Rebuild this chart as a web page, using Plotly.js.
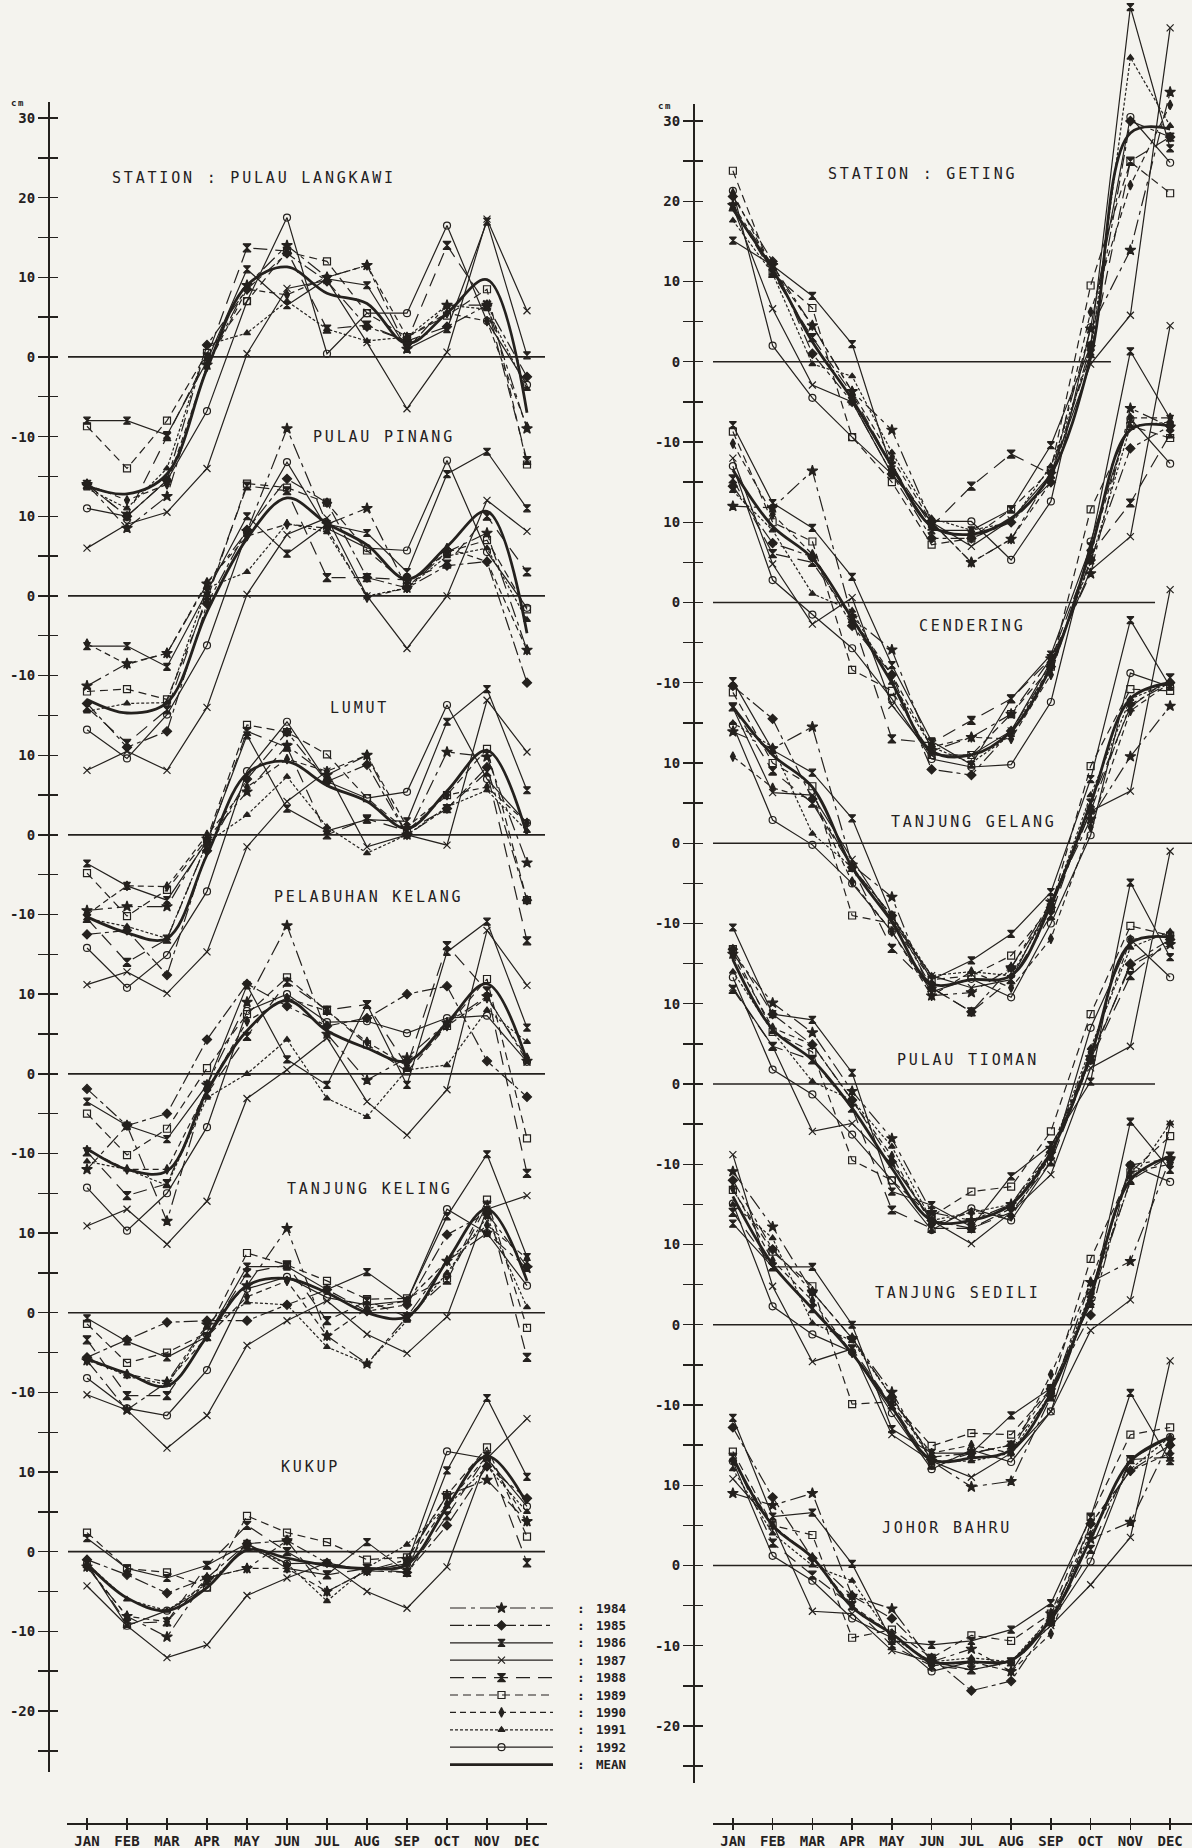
<!DOCTYPE html>
<html>
<head>
<meta charset="utf-8">
<script src="https://cdn.plot.ly/plotly-3.0.1.min.js"></script>
<style>
html,body{margin:0;padding:0;background:#f4f3ee;}
#chart{width:1192px;height:1848px;}
</style>
</head>
<body>
<div id="chart"></div>
<script>
// ---------------- DATA (cm, monthly mean sea level anomaly) ----------------
const months = ['JAN','FEB','MAR','APR','MAY','JUN','JUL','AUG','SEP','OCT','NOV','DEC'];
const years = ['1984','1985','1986','1987','1988','1989','1990','1991','1992'];
const legendLabels = ['1984','1985','1986','1987','1988','1989','1990','1991','1992','MEAN'];
const axisTickLabels = ['30','20','10','0','-10','10','0','-10','10','0','-10','10','0','-10','10','0','-10','10','0','-10','-20'];

// ---- West coast ----
const langkawiMean = [-16.2,-17.2,-14.7,-1.5,9.0,11.3,8.0,6.7,1.7,5.5,9.7,-7.0];
const langkawi = [
  [-16,-21.5,-17.5,-1,9,14,10,11.5,1,6.5,6.5,-9],
  [-16,-20,-15.5,1.5,8.5,13,9.5,3.8,2,3.8,6.5,-2.5],
  [-8,-8,-9.8,-0.5,11,6.5,9.8,9,1,3.5,17,0.2],
  [-24,-21,-19.5,-14,0.4,8.6,9.6,1.8,-6.5,0.6,17.3,5.8],
  [-16,-20,-10,0,13.7,13.3,3.5,4,2,14,6.5,-13],
  [-8.7,-14,-8,0.5,7,13.2,12,5.5,2.5,5.2,8.5,-13.5],
  [-16,-18,-16,-1.2,8.5,7.8,10,11.5,2.5,5.5,4.5,-8.8],
  [-16.5,-19,-14,1.5,3,7,3.5,2,2.5,6.5,6,-4],
  [-19,-20,-15.5,-6.8,7,17.5,0.4,5.5,5.5,16.5,4.5,-3.5]
];
const pinangMean = [-13,-14.7,-13.4,-2.0,7.2,12.3,9.1,6.4,2.1,6.2,10.6,-4.7];
const pinang = [
  [-11.3,-8.5,-7.2,1.5,8.1,21,9,11,1,5.5,7.9,-6.8],
  [-13.5,-19,-17,-1,8.3,14.7,11.7,2.3,1,3.8,4.3,-10.9],
  [-6.3,-6.3,-8.9,0.5,10,5.3,9,7.9,3,15.3,18.1,11],
  [-21.9,-19.5,-21.9,-14,0.2,7.7,9.8,0,-6.6,0,12,8.1],
  [-14,-18.5,-14.3,0,13.8,13.2,2.3,2.3,2,4,10,3],
  [-12,-11.7,-13,-0.5,14.1,13.6,11.7,5.7,1.5,5.5,7,-1.7],
  [-6,-8.6,-7.2,1.7,7.5,9,8.5,-0.2,1,6,4.3,-6.8],
  [-14.5,-13.5,-13.4,1,3,9.1,8,0,1,5,6,-3],
  [-16.8,-20.4,-14.9,-6.2,8,16.8,8.5,6,5.7,17,5.5,-1.5]
];
const lumutMean = [-10.3,-12.3,-13.0,-2.5,7.7,9.2,6.2,4.2,0.8,5.5,10.6,0.0];
const lumut = [
  [-9.5,-9,-9,-0.5,5.4,11.2,7.5,10,0,10.4,9.8,-3.5],
  [-12.5,-12,-17.6,-2,7,12.9,6.7,8.8,0,3.3,8.5,-8.2],
  [-3.6,-6.4,-8.2,-0.8,12.5,3.3,0.5,1.9,1.7,14.2,18.3,5.6],
  [-18.8,-17.2,-19.9,-14.7,-1.5,4.2,8,-1.5,0,-1.3,16.9,10.4],
  [-10.5,-16,-13.1,-1,13,11,0,2,0.5,3.3,7.9,-13.3],
  [-4.8,-10.2,-6.9,-0.5,13.8,12.9,10.1,4.6,0.5,5,10.8,-8.2],
  [-10,-6.4,-6.5,0,6,9.5,8,10,1,5,6,1.5],
  [-10.5,-11.5,-13,-1,2.5,7.3,1,-2.3,0,3.5,5.6,0.5],
  [-14.2,-19.2,-15.1,-7.1,8,14.2,6.7,4.6,5.4,16.3,7,1.5]
];
const kelangMean = [-9.4,-12.0,-12.2,-2.2,5.4,9.2,5.4,3.2,1.6,6.4,11.3,1.6];
const kelang = [
  [-12,-6.5,-18.5,-1.4,9,18.6,5,-0.8,2,6.4,9.7,1.6],
  [-1.9,-6.5,-5,4.3,11.3,8.5,6,7,10,11,1.6,-2.9],
  [-3.5,-6.5,-8.2,-1.4,11.1,1.8,-1.4,8.7,-1.4,15.3,19.1,5.8],
  [-19.1,-17,-21.4,-16,-3.1,0.5,4.5,-3.5,-7.7,-2,18,11.1],
  [-9.8,-15.3,-13.8,-2.5,4.7,11.5,8,8.7,1,16.1,10.4,-12.5],
  [-5,-10.2,-6.9,0.7,7.5,12.1,7.9,3.7,0.3,6,11.9,-8.1],
  [-9.6,-12,-12,-2,6.6,9.5,7.9,4,1,6,9.5,2],
  [-11,-12,-14,-3,0,4.3,-3.1,-5.4,0.5,1.1,8,4],
  [-14.3,-19.7,-15,-6.7,7.9,10,6.5,6.6,5.1,7,7.3,1.5]
];
const kelingMean = [-5.8,-7.6,-9.2,-3.0,3.4,4.3,2.5,0.0,-0.5,6.5,13.0,4.0];
const keling = [
  [-6,-12.2,-8.7,-1.5,3.4,10.6,-2.9,-6.4,-0.5,6.5,10,5.6],
  [-5.6,-3.4,-1.2,-1,-1,1,2.9,0.2,1,9.8,12.5,5.8],
  [-0.7,-3.6,-5.6,-3,5.8,5.8,2.9,5.1,1.5,12.1,19.9,7],
  [-10.3,-12.2,-17,-12.9,-4.1,-1,1.5,-2.7,-5.1,-0.5,13,14.7],
  [-3.4,-10.4,-10.4,-3,5,6,-1,1.5,-0.5,4.1,13.5,-5.6],
  [-1.4,-6.3,-5,-2.5,7.5,6,4,1.7,1.8,4.3,14.2,-1.9],
  [-6,-7.7,-8.7,-3,2,4,-2.9,0.5,1.5,6.5,11,6.8],
  [-5.6,-8,-9,-1.8,1.3,1,-4.3,-6.4,-1,5,12,0.7],
  [-8.2,-12,-12.9,-7.2,3,4.5,1.9,1,1.5,13,10,3.4]
];
const kukupMean = [-1.5,-5.8,-7.4,-4.5,0.2,-0.8,-1.7,-2.1,-1.6,5.6,12.0,6.0];
const kukup = [
  [-1.9,-8.1,-10.7,-3.3,-2.1,1.4,-5,-2.4,-1,7.1,9,3.8],
  [-1,-2.9,-5.2,-3.3,1,1.4,-1.4,-2.4,-2.6,3.3,10.7,6.7],
  [1.7,-2.1,-3.3,-1.7,1,-2.1,-2.9,1.2,-2.6,10.2,19.3,9.4],
  [-4.3,-9.3,-13.3,-11.7,-5.5,-3.3,-1.4,-5,-7.1,-1.9,11.7,16.7],
  [-1.5,-9,-8.8,-1.7,3.3,0,-2.9,-2.1,-2.6,4.5,12,-1.4],
  [2.4,-2.1,-2.6,-4.5,4.5,2.4,1.2,-1,-0.7,7.1,13.1,1.9],
  [-1.9,-8.1,-8.8,-3.3,-2.1,-2.1,-5,-2.4,-1.5,6,12,3.8],
  [-1.5,-6,-7.4,-4,0.5,-1.5,-6.2,-2,0.9,5.7,10.7,5],
  [-1.5,-9.3,-7.4,-4.5,1,-1.5,-1.4,-2.4,-1.5,12.6,11.7,5.7]
];

// ---- East coast ----
const getingMean = [19.0,11.5,2.5,-4.7,-13.0,-20.5,-21.5,-19.5,-14.0,0.5,28.5,29.0];
const geting = [
  [19.5,12,4.5,-3.7,-8.5,-20,-25,-22.1,-14,4.1,13.9,33.6],
  [20.6,12.5,1,-5,-14,-22,-22,-20,-15,2,30,28],
  [15.1,12,8.2,2.2,-13.4,-21,-21,-18.4,-10.4,2,44.2,26.6],
  [19.3,6.6,-2.9,-5,-14,-20,-23,-19.7,-14,-0.3,5.8,41.6],
  [19.3,11,3,-4,-13,-20.5,-15.5,-11.5,-14,1,25,28],
  [23.8,11,6.7,-9.4,-15,-22.8,-22,-18.4,-13.5,9.5,24.9,21],
  [21,11.5,4.5,-3.7,-12,-20,-25,-22.1,-15,6.2,22,32],
  [17.6,11,-0.3,-1.8,-11.3,-19.5,-21,-20,-13,1,37.9,29.4],
  [21.3,2,-4.5,-9.4,-14,-19.9,-19.9,-24.7,-17.4,4.3,30.5,24.8]
];
const cenderingMean = [16.5,9.5,5.5,-2.0,-10.0,-18.5,-19.0,-16.0,-8.0,6.5,21.5,22.0];
const cendering = [
  [12,11.8,16.4,-1.9,-5.9,-18.5,-16.8,-13.9,-7,3.6,24.2,21.9],
  [14.5,7.4,5.7,-2.9,-9,-20.8,-21.5,-16,-8,5.3,19.2,22],
  [22.1,12.4,9.3,3.2,-7.8,-17.3,-20.2,-12,-6.5,7,31.3,22.9],
  [18,4.8,-2.7,0.6,-12.8,-19,-19,-16,-7.4,4,8.2,34.5],
  [15.4,6.1,5,-2,-17,-17.5,-14.7,-12,-7,6,12.4,21],
  [21.3,10,7.6,-8.4,-11,-19,-19,-13.9,-8,11.6,22,20.5],
  [19.8,11,6,-1.9,-9,-18,-16.8,-17,-9,6.5,23,23],
  [13.9,9,1.1,-1,-10,-18,-20,-16.5,-8,5,22,22.5],
  [17,2.8,-1.5,-5.7,-12,-19.5,-20.5,-20.2,-12.4,7.6,22.9,17.3]
];
const gelangMean = [17.0,11.0,7.0,-3.0,-9.8,-17.5,-17.0,-16.5,-7.7,5.0,18.0,20.0];
const gelang = [
  [13.9,11.8,14.5,-2.7,-6.7,-19,-18.6,-15.5,-7.3,3,10.8,17.1],
  [19.6,15.5,5.5,-3,-9,-18,-21,-15.5,-8,4,17.3,20],
  [20.2,11.6,8.8,3.1,-9,-17,-14.6,-11.3,-6.1,8,27.8,19.5],
  [16.9,6.3,6,-2,-9.6,-16.5,-18,-17,-7.3,4,6.5,31.6],
  [17,9,5,-3,-13.1,-18,-21,-17,-9,5,17,20.6],
  [18.8,10,7.1,-9,-10,-17,-16.5,-14,-8,9.6,19.2,19],
  [10.8,6.9,5.5,-4.8,-11,-19,-16,-18,-11.9,2,16.5,20],
  [15,12,1.2,-3,-9,-16.5,-16,-16.5,-8,6,18,20],
  [14.7,2.9,-0.2,-5,-11,-18.5,-16.9,-19.2,-10,1,21.2,19.5]
];
const tiomanMean = [15.5,6.8,3.0,-3.0,-10.5,-17.0,-17.0,-15.0,-8.5,3.5,17.5,18.3];
const tioman = [
  [16.2,10.1,6.4,-0.9,-6.8,-16,-17,-15,-8,3.3,14.7,17.4],
  [16.8,8.7,4.9,-2,-9.7,-17,-18,-15.5,-8.5,3,15,18],
  [19.5,8.7,8,1.4,-13.4,-15.1,-17.8,-11.5,-7.6,0.3,25.1,15.8],
  [12,4.7,-5.9,-4.9,-10,-17,-19.9,-16,-11.3,2,4.7,29],
  [11.8,4.7,3,-3,-15.7,-18,-18,-16,-9.7,3,13.5,18],
  [16.8,6.5,4,-9.5,-12,-16.5,-13.4,-12.8,-5.9,8.7,19.7,18.5],
  [16,7,4.9,-2,-9,-17.5,-16,-16.5,-9,4,18,18.5],
  [14,6.5,0.3,-2,-7.8,-17,-16,-15,-8.5,4.5,17,19],
  [13.3,1.8,-1.3,-6.3,-12,-18.2,-15.5,-17,-9.7,7,18,13.3]
];
const sediliMean = [16.0,7.5,2.0,-3.6,-10.3,-16.8,-16.6,-15.6,-8.5,3.6,18.0,21.0];
const sedili = [
  [19.1,12.2,4.1,-1.7,-8.4,-17,-20.2,-19.5,-9,5.3,7.9,20.7],
  [18,9.4,4.1,-1.7,-9,-16.5,-16,-15,-8,1.2,19.9,20.7],
  [12.6,7.2,7.2,0,-13,-16,-16,-11.3,-7.9,2.6,25.3,19.3],
  [21.2,4.8,-4.6,-3,-13.7,-17,-19,-16,-10.8,-0.7,3.1,25],
  [14,7.2,2,-3,-10,-17.5,-16,-15,-9,3,18,21],
  [16.8,9.1,4.8,-9.9,-9.6,-15.1,-13.5,-13.7,-8,8.2,19,23.5],
  [17,8,3,-3.5,-10,-16,-15,-16,-6.2,5.3,19,20],
  [15,10.8,0.2,-2,-9,-17,-17,-16,-8.5,4,17.8,25.1],
  [15.1,2.3,-1.2,-3.4,-11,-18,-15.6,-17.1,-10.8,4,19.9,17.8]
];
const johorMean = [13.5,5.0,1.0,-5.2,-8.5,-12.0,-12.0,-11.8,-6.6,3.3,13.0,16.0];
const johor = [
  [9,7.5,9,-3.8,-5.4,-12,-10.4,-13.2,-6,3.3,5.4,15.6],
  [17.2,8.5,0.9,-3.8,-6.6,-11.5,-15.6,-14.4,-7,5.2,11.8,15],
  [18.4,6.1,6.6,0.2,-9.4,-9.9,-9.4,-8,-4.7,6,21.5,13],
  [10.8,5.2,-5.7,-6,-10.6,-12,-13,-12,-7.5,-2.4,3.5,25.5],
  [13.5,2.8,-1.2,-5,-10,-12.5,-13,-12,-7,2,13.2,13.5],
  [14.2,5,3.8,-9,-8,-11.5,-8.7,-9.4,-6,6.1,16.3,17.2],
  [13,5,1,-5,-8.5,-12.5,-12,-13.2,-8.5,5.2,11.8,14],
  [12,4,0,-1.9,-9,-12,-11.5,-12,-6.5,4,12,16],
  [13,1.2,-1.9,-6.6,-9,-13.2,-12,-12,-7,0.5,13.2,16]
];

const leftNames = ['STATION : PULAU LANGKAWI','PULAU PINANG','LUMUT','PELABUHAN KELANG','TANJUNG KELING','KUKUP'];
const rightNames = ['STATION : GETING','CENDERING','TANJUNG GELANG','PULAU TIOMAN','TANJUNG SEDILI','JOHOR BAHRU'];
const leftYears = [langkawi, pinang, lumut, kelang, keling, kukup];
const leftMeans = [langkawiMean, pinangMean, lumutMean, kelangMean, kelingMean, kukupMean];
const rightYears = [geting, cendering, gelang, tioman, sedili, johor];
const rightMeans = [getingMean, cenderingMean, gelangMean, tiomanMean, sediliMean, johorMean];

// ---------------- STYLE / LAYOUT ----------------
const W = 1192, H = 1848;
const ink = '#24211e';
const bg = '#f4f3ee';
const STATION_STEP = 30; // vertical offset between stations (cm)
const yearStyles = [
  {dash:'16px,5px,4px,5px', symbol:'star', size:8},
  {dash:'14px,4px,4px,4px', symbol:'diamond', size:7},
  {dash:'solid', symbol:'hourglass', size:7},
  {dash:'solid', symbol:'x-thin-open', size:7},
  {dash:'14px,8px', symbol:'hourglass', size:8},
  {dash:'8px,5px', symbol:'square-open', size:7},
  {dash:'6px,4px', symbol:'diamond-tall', size:7},
  {dash:'3px,2px', symbol:'triangle-up', size:6},
  {dash:'solid', symbol:'circle-open', size:7}
];
const monthX = months.map((m, i) => i + 1);
const px = v => v / W;
const py = v => 1 - v / H;

const traces = [];
function addStation(yearsData, meanData, k, xa, ya) {
  const off = -STATION_STEP * k;
  yearsData.forEach((vals, j) => {
    const s = yearStyles[j];
    traces.push({
      x: monthX, y: vals.map(v => v + off), xaxis: xa, yaxis: ya,
      mode: 'lines+markers', name: years[j],
      line: {color: ink, width: 1.2, dash: s.dash},
      marker: {symbol: s.symbol, size: s.size, color: ink, line: {color: ink, width: 1.2}},
      showlegend: false, hoverinfo: 'skip', cliponaxis: false
    });
  });
  traces.push({
    x: monthX, y: meanData.map(v => v + off), xaxis: xa, yaxis: ya,
    mode: 'lines', name: 'MEAN',
    line: {color: ink, width: 2.8, shape: 'spline', smoothing: 1},
    showlegend: false, hoverinfo: 'skip'
  });
}
leftYears.forEach((d, k) => addStation(d, leftMeans[k], k, 'x', 'y'));
rightYears.forEach((d, k) => addStation(d, rightMeans[k], k, 'x2', 'y2'));

// dummy traces so that display axes get drawn
[['x','y3'],['x','y5'],['x2','y4'],['x2','y6'],['x5','y'],['x6','y2']].forEach(p => {
  traces.push({x:[null], y:[null], xaxis:p[0], yaxis:p[1], mode:'markers', showlegend:false, hoverinfo:'skip'});
});

// legend samples
yearStyles.forEach((s, j) => {
  traces.push({x:[0,1], y:[j,j], xaxis:'x7', yaxis:'y7', mode:'lines',
    line:{color:ink, width:1.2, dash:s.dash}, showlegend:false, hoverinfo:'skip'});
  traces.push({x:[0.5], y:[j], xaxis:'x7', yaxis:'y7', mode:'markers',
    marker:{symbol:s.symbol, size:s.size, color:ink, line:{color:ink, width:1.2}},
    showlegend:false, hoverinfo:'skip', cliponaxis:false});
});
traces.push({x:[0,1], y:[9,9], xaxis:'x7', yaxis:'y7', mode:'lines',
  line:{color:ink, width:2.8}, showlegend:false, hoverinfo:'skip'});

// tick values every 5 cm with labels every 10 cm
const tickVals = [];
const tickText = [];
for (let v = 30, n = 0; v >= -175; v -= 5) {
  tickVals.push(v);
  if (v % 10 === 0) { tickText.push(axisTickLabels[n]); n++; } else tickText.push('');
}

const tickFont = {family:'DejaVu Sans Mono', size:14, color:ink, weight:'bold'};
const xPos = py(1823);
// left y scale: 30 at 118px, 7.965 px/cm ; right: 30 at 121px, 8.025 px/cm
const Ls = 7.965, Rs = 8.025;
const lv = p => 30 - (p - 118) / Ls;
const rv = p => 30 - (p - 121) / Rs;

const xCommon = {range:[0.5,12.5], anchor:'free', position:xPos, showgrid:false, zeroline:false, fixedrange:true};
const layout = {
  width: W, height: H,
  margin: {l:0, r:0, t:0, b:0, pad:0},
  paper_bgcolor: bg, plot_bgcolor: 'rgba(0,0,0,0)',
  showlegend: false,
  xaxis: Object.assign({}, xCommon, {domain:[px(67), px(547)], showline:true, linecolor:ink, linewidth:1.6,
    ticks:'outside', ticklen:5, tickwidth:1.4, tickcolor:ink, tickvals:monthX, ticktext:months, tickfont:tickFont}),
  xaxis5: Object.assign({}, xCommon, {overlaying:'x', ticks:'inside', ticklen:5, tickwidth:1.4, tickcolor:ink,
    tickvals:monthX, showticklabels:false, showline:false}),
  xaxis2: Object.assign({}, xCommon, {range:[0.5,12.55], domain:[px(713), 1], showline:true, linecolor:ink, linewidth:1.6,
    ticks:'outside', ticklen:5, tickwidth:1.4, tickcolor:ink, tickvals:monthX, ticktext:months, tickfont:tickFont}),
  xaxis6: Object.assign({}, xCommon, {range:[0.5,12.55], overlaying:'x2', ticks:'inside', ticklen:5, tickwidth:1.4, tickcolor:ink,
    tickvals:monthX, showticklabels:false, showline:false}),
  yaxis: {domain:[0,1], range:[lv(H), lv(0)], visible:false, fixedrange:true},
  yaxis2: {domain:[0,1], range:[rv(H), rv(0)], visible:false, fixedrange:true, anchor:'x2'},
  yaxis3: {domain:[py(1772), py(102)], range:[lv(1772), lv(102)], anchor:'free', position:px(48),
    showline:true, linecolor:ink, linewidth:1.6, ticks:'outside', ticklen:10, tickwidth:1.4, tickcolor:ink,
    tickvals:tickVals, ticktext:tickText, tickfont:tickFont, showgrid:false, zeroline:false, fixedrange:true},
  yaxis5: {overlaying:'y3', range:[lv(1772), lv(102)], anchor:'free', position:px(48),
    ticks:'inside', ticklen:9, tickwidth:1.4, tickcolor:ink, tickvals:tickVals, showticklabels:false,
    showline:false, showgrid:false, zeroline:false, fixedrange:true},
  yaxis4: {domain:[py(1783), py(104)], range:[rv(1783), rv(104)], anchor:'free', position:px(693),
    showline:true, linecolor:ink, linewidth:1.6, ticks:'outside', ticklen:10, tickwidth:1.4, tickcolor:ink,
    tickvals:tickVals, ticktext:tickText, tickfont:tickFont, showgrid:false, zeroline:false, fixedrange:true},
  yaxis6: {overlaying:'y4', range:[rv(1783), rv(104)], anchor:'free', position:px(693),
    ticks:'inside', ticklen:9, tickwidth:1.4, tickcolor:ink, tickvals:tickVals, showticklabels:false,
    showline:false, showgrid:false, zeroline:false, fixedrange:true},
  xaxis7: {domain:[px(450), px(553)], range:[0,1], visible:false, anchor:'y7', fixedrange:true},
  yaxis7: {domain:[py(1773.3), py(1599.3)], range:[9.5,-0.5], visible:false, anchor:'x7', fixedrange:true},
  shapes: [],
  annotations: []
};

// zero lines for each station
const leftZeroEnd = [12.45,12.45,12.45,12.45,12.45,12.45];
const rightZeroEnd = [10.51,11.62,12.55,11.62,12.55,12.55];
for (let k = 0; k < 6; k++) {
  layout.shapes.push({type:'line', xref:'x', yref:'y', x0:0.525, x1:leftZeroEnd[k],
    y0:-STATION_STEP*k, y1:-STATION_STEP*k, line:{color:ink, width:1.7}});
  layout.shapes.push({type:'line', xref:'x2', yref:'y2', x0:0.47, x1:rightZeroEnd[k],
    y0:-STATION_STEP*k, y1:-STATION_STEP*k, line:{color:ink, width:1.7}});
}

// station titles
const titleFont = {family:'DejaVu Sans Mono', size:15, color:ink};
const leftTitlePos = [[110,178],[311,437],[328,708],[272,897],[285,1189],[279,1467]];
const rightTitlePos = [[826,174],[917,626],[889,822],[895,1060],[873,1293],[880,1528]];
leftNames.forEach((t, k) => layout.annotations.push({text:t, xref:'paper', yref:'paper',
  x:px(leftTitlePos[k][0]), y:py(leftTitlePos[k][1]), xanchor:'left', yanchor:'middle', align:'left',
  showarrow:false, font:titleFont}));
rightNames.forEach((t, k) => layout.annotations.push({text:t, xref:'paper', yref:'paper',
  x:px(rightTitlePos[k][0]), y:py(rightTitlePos[k][1]), xanchor:'left', yanchor:'middle', align:'left',
  showarrow:false, font:titleFont}));
const titleCount = layout.annotations.length;
// unit labels
[[9,103],[656,106]].forEach(p => layout.annotations.push({text:'cm', xref:'paper', yref:'paper',
  x:px(p[0]), y:py(p[1]), xanchor:'left', yanchor:'middle', align:'left', showarrow:false,
  font:{family:'DejaVu Sans Mono', size:9, color:ink, weight:'bold'}}));
// legend text
legendLabels.forEach((t, i) => {
  const yy = py(1608 + 17.4 * i);
  layout.annotations.push({text:':', xref:'paper', yref:'paper', x:px(581), y:yy, xanchor:'center', yanchor:'middle',
    showarrow:false, font:{family:'DejaVu Sans Mono', size:13, color:ink, weight:'bold'}});
  layout.annotations.push({text:t, xref:'paper', yref:'paper', x:px(594), y:yy, xanchor:'left', yanchor:'middle',
    showarrow:false, font:{family:'DejaVu Sans Mono', size:12.5, color:ink, weight:'bold'}});
});

Plotly.newPlot('chart', traces, layout, {staticPlot:true, displayModeBar:false}).then(() => {
  document.querySelectorAll('g.annotation').forEach(g => {
    const i = +g.getAttribute('data-index');
    const t = g.querySelector('text');
    if (!t) return;
    if (i < titleCount) t.style.letterSpacing = '2.8px';
    else if (i < titleCount + 2) t.style.letterSpacing = '1.5px';
  });
});
</script>
</body>
</html>
